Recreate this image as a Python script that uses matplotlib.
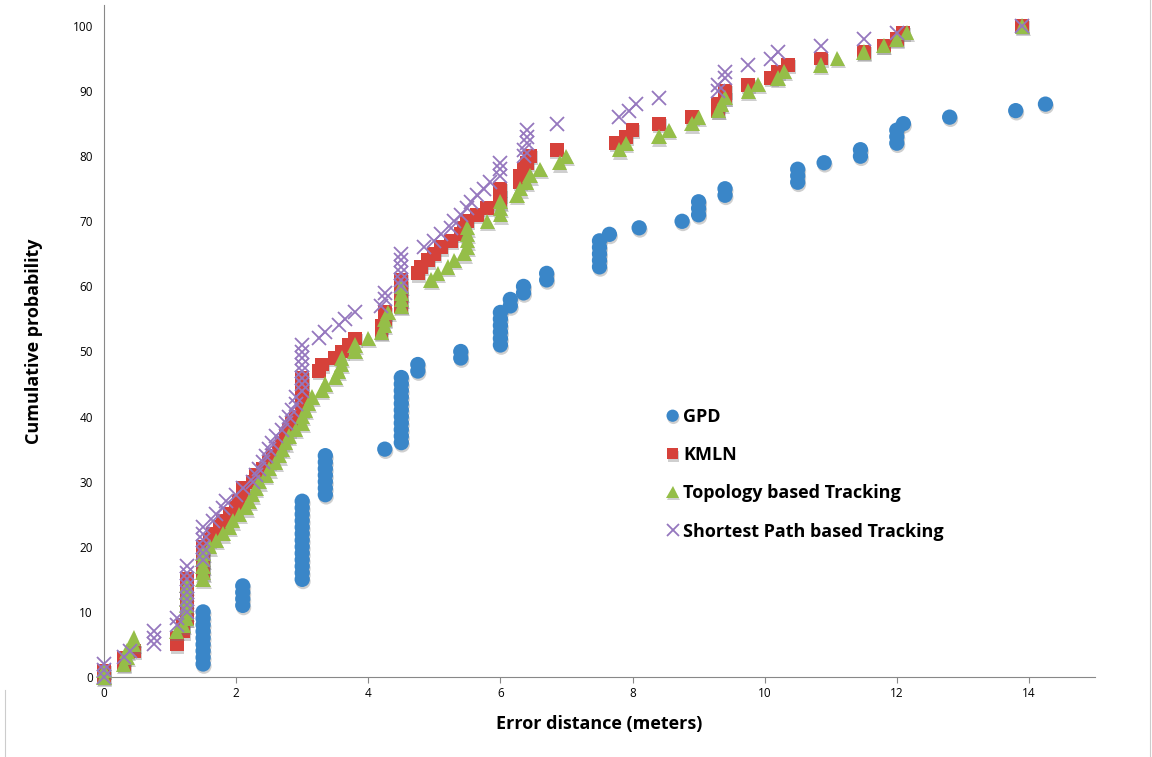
import matplotlib
matplotlib.use("Agg")
import matplotlib.pyplot as plt
import matplotlib.patheffects as pe
from matplotlib.lines import Line2D

# GPD
gpd_x = [1.5, 1.5, 1.5, 1.5, 1.5, 1.5, 1.5, 1.5, 1.5,
         2.1, 2.1, 2.1, 2.1,
         3.0, 3.0, 3.0, 3.0, 3.0, 3.0, 3.0, 3.0, 3.0, 3.0, 3.0, 3.0, 3.0,
         3.35, 3.35, 3.35, 3.35, 3.35, 3.35, 3.35,
         4.25,
         4.5, 4.5, 4.5, 4.5, 4.5, 4.5, 4.5, 4.5, 4.5, 4.5, 4.5,
         4.75, 4.75, 5.4, 5.4,
         6.0, 6.0, 6.0, 6.0, 6.0, 6.0, 6.15, 6.15, 6.35, 6.35, 6.7, 6.7,
         7.5, 7.5, 7.5, 7.5, 7.5, 7.65, 8.1, 8.75,
         9.0, 9.0, 9.0, 9.4, 9.4, 10.5, 10.5, 10.5, 10.9, 11.45, 11.45,
         12.0, 12.0, 12.0, 12.1, 12.8, 13.8, 14.25]
gpd_y = [2, 3, 4, 5, 6, 7, 8, 9, 10,
         11, 12, 13, 14,
         15, 16, 17, 18, 19, 20, 21, 22, 23, 24, 25, 26, 27,
         28, 29, 30, 31, 32, 33, 34,
         35,
         36, 37, 38, 39, 40, 41, 42, 43, 44, 45, 46,
         47, 48, 49, 50,
         51, 52, 53, 54, 55, 56, 57, 58, 59, 60, 61, 62,
         63, 64, 65, 66, 67, 68, 69, 70,
         71, 72, 73, 74, 75, 76, 77, 78, 79, 80, 81,
         82, 83, 84, 85, 86, 87, 88]

# KMLN
kmln_x = [0.0, 0.0, 0.3, 0.3, 0.45, 1.1, 1.1, 1.2, 1.2,
          1.25, 1.25, 1.25, 1.25, 1.25, 1.25, 1.25,
          1.5, 1.5, 1.5, 1.5, 1.5,
          1.6, 1.65, 1.75, 1.8, 1.9, 2.0, 2.05, 2.1, 2.1,
          2.25, 2.3, 2.4, 2.5, 2.55, 2.65, 2.7, 2.75, 2.8, 2.85, 2.9,
          3.0, 3.0, 3.0, 3.0, 3.0, 3.0,
          3.25, 3.3, 3.5, 3.6, 3.7, 3.8,
          4.2, 4.2, 4.25, 4.25,
          4.5, 4.5, 4.5, 4.5, 4.5,
          4.75, 4.8, 4.9, 5.0, 5.1, 5.25, 5.4, 5.45, 5.5, 5.65, 5.8,
          6.0, 6.0, 6.0, 6.3, 6.3, 6.35, 6.4, 6.45, 6.85,
          7.75, 7.9, 8.0, 8.4, 8.9, 9.3, 9.3, 9.4, 9.4, 9.75,
          10.1, 10.2, 10.35, 10.85, 11.5, 11.8, 12.0, 12.1, 13.9]
kmln_y = [0, 1, 2, 3, 4, 5, 6, 7, 8,
          9, 10, 11, 12, 13, 14, 15,
          16, 17, 18, 19, 20,
          21, 22, 23, 24, 25, 26, 27, 28, 29,
          30, 31, 32, 33, 34, 35, 36, 37, 38, 39, 40,
          41, 42, 43, 44, 45, 46,
          47, 48, 49, 50, 51, 52,
          53, 54, 55, 56,
          57, 58, 59, 60, 61,
          62, 63, 64, 65, 66, 67, 68, 69, 70, 71, 72,
          73, 74, 75, 76, 77, 78, 79, 80, 81,
          82, 83, 84, 85, 86, 87, 88, 89, 90, 91,
          92, 93, 94, 95, 96, 97, 98, 99, 100]

# Topology based Tracking
topo_x = [0.0, 0.0, 0.3, 0.35, 0.35, 0.45, 0.45, 1.1, 1.2,
          1.25, 1.25, 1.25, 1.25, 1.25, 1.25,
          1.5, 1.5, 1.5, 1.5, 1.5,
          1.6, 1.7, 1.8, 1.9, 1.95, 2.05, 2.15, 2.2, 2.25, 2.3,
          2.35, 2.45, 2.5, 2.6, 2.65, 2.7, 2.75, 2.8, 2.9, 3.0,
          3.0, 3.05, 3.1, 3.15, 3.3, 3.35, 3.5, 3.55, 3.6, 3.6,
          3.8, 3.8, 4.0, 4.2, 4.25, 4.25, 4.3, 4.5, 4.5, 4.5,
          4.5, 4.95, 5.05, 5.2, 5.3, 5.45, 5.5, 5.5, 5.5, 5.5,
          5.8, 6.0, 6.0, 6.0, 6.25, 6.3, 6.4, 6.45, 6.6, 6.9,
          7.0, 7.8, 7.9, 8.4, 8.55, 8.9, 9.0, 9.3, 9.35, 9.4,
          9.75, 9.9, 10.2, 10.3, 10.85, 11.1, 11.5, 11.8, 12.0, 12.15,
          13.9]
topo_y = [0, 1, 2, 3, 4, 5, 6, 7, 8,
          9, 10, 11, 12, 13, 14,
          15, 16, 17, 18, 19,
          20, 21, 22, 23, 24, 25, 26, 27, 28, 29,
          30, 31, 32, 33, 34, 35, 36, 37, 38, 39,
          40, 41, 42, 43, 44, 45, 46, 47, 48, 49,
          50, 51, 52, 53, 54, 55, 56, 57, 58, 59,
          60, 61, 62, 63, 64, 65, 66, 67, 68, 69,
          70, 71, 72, 73, 74, 75, 76, 77, 78, 79,
          80, 81, 82, 83, 84, 85, 86, 87, 88, 89,
          90, 91, 92, 93, 94, 95, 96, 97, 98, 99,
          100]

# Shortest Path based Tracking
sp_x = [0.0, 0.0, 0.0, 0.3, 0.4, 0.75, 0.75, 0.75, 1.1, 1.1,
        1.25, 1.25, 1.25, 1.25, 1.25, 1.25, 1.25, 1.25,
        1.5, 1.5, 1.5, 1.5, 1.5, 1.5,
        1.65, 1.7, 1.8, 1.85, 2.0, 2.1, 2.25, 2.3, 2.35, 2.4,
        2.45, 2.5, 2.55, 2.6, 2.7, 2.75, 2.8, 2.85, 2.9, 2.9,
        3.0, 3.0, 3.0, 3.0, 3.0, 3.0, 3.0, 3.0,
        3.25, 3.35, 3.55, 3.65, 3.8, 4.2, 4.25, 4.25,
        4.5, 4.5, 4.5, 4.5, 4.5, 4.5,
        4.85, 5.0, 5.1, 5.25, 5.3, 5.4, 5.5, 5.55, 5.65, 5.75,
        5.85, 6.0, 6.0, 6.0, 6.35, 6.35, 6.4, 6.4, 6.4, 6.85,
        7.8, 7.95, 8.05, 8.4, 9.3, 9.3, 9.4, 9.4, 9.75, 10.1,
        10.2, 10.85, 11.5, 12.0, 13.9]
sp_y = [0, 1, 2, 3, 4, 5, 6, 7, 8, 9,
        10, 11, 12, 13, 14, 15, 16, 17,
        18, 19, 20, 21, 22, 23,
        24, 25, 26, 27, 28, 29, 30, 31, 32, 33,
        34, 35, 36, 37, 38, 39, 40, 41, 42, 43,
        44, 45, 46, 47, 48, 49, 50, 51,
        52, 53, 54, 55, 56, 57, 58, 59,
        60, 61, 62, 63, 64, 65,
        66, 67, 68, 69, 70, 71, 72, 73, 74, 75,
        76, 77, 78, 79, 80, 81, 82, 83, 84, 85,
        86, 87, 88, 89, 90, 91, 92, 93, 94, 95,
        96, 97, 98, 99, 100]

x_ticks = [0, 2, 4, 6, 8, 10, 12, 14]
y_ticks = [0, 10, 20, 30, 40, 50, 60, 70, 80, 90, 100]

plt.rcParams['font.family'] = ['Open Sans', 'DejaVu Sans']

fig = plt.figure(figsize=(11.52, 7.57), dpi=100)
ax = fig.add_axes([104 / 1152, 1 - 677 / 757, (1095 - 104) / 1152, (677 - 5) / 757])

blue = '#3A86C8'
red = '#D6413A'
green = '#95BE48'
purple = '#9577BE'

shadow = [pe.SimplePatchShadow(offset=(0.6, -1.6), shadow_rgbFace='#777777', alpha=0.35), pe.Normal()]

ax.plot(gpd_x, gpd_y, 'o', color=blue, markersize=11, markeredgewidth=0,
        label='GPD', clip_on=False, zorder=3, path_effects=shadow)
ax.plot(kmln_x, kmln_y, 's', color=red, markersize=10, markeredgewidth=0,
        label='KMLN', clip_on=False, zorder=4, path_effects=shadow)
ax.plot(topo_x, topo_y, '^', color=green, markersize=11, markeredgewidth=0,
        label='Topology based Tracking', clip_on=False, zorder=5, path_effects=shadow)
ax.plot(sp_x, sp_y, 'x', color=purple, markersize=10, markeredgewidth=1.3,
        label='Shortest Path based Tracking', clip_on=False, zorder=6)

ax.set_xlim(0, 15)
ax.set_ylim(0, 100 * (677 - 5) / (677 - 26))
ax.set_xticks(x_ticks)
ax.set_yticks(y_ticks)
ax.tick_params(axis='both', labelsize=8.5, length=4, color='#888888', width=0.8, pad=3)
ax.tick_params(axis='y', length=0, pad=8)

for side in ['top', 'right']:
    ax.spines[side].set_visible(False)
for side in ['left', 'bottom']:
    ax.spines[side].set_color('#888888')
    ax.spines[side].set_linewidth(0.8)

ax.set_xlabel('Error distance (meters)', fontsize=13, fontweight='bold', labelpad=11)
ax.set_ylabel('Cumulative probability', fontsize=13, fontweight='bold', labelpad=21)

leg = ax.legend(loc='upper left', bbox_to_anchor=(655 / 1152, 1 - 399 / 757),
                bbox_transform=fig.transFigure, frameon=False,
                prop={'weight': 'bold', 'size': 13}, handletextpad=0.1,
                handlelength=0.95, labelspacing=1.12, borderpad=0, markerscale=0.8)

# light frame lines at the figure edges
fig.add_artist(Line2D([1150 / 1152, 1150 / 1152], [0, 1], color='#cccccc', lw=0.8))
fig.add_artist(Line2D([5 / 1152, 5 / 1152], [0, 1 - 690 / 757], color='#cccccc', lw=0.8))

fig.savefig('out.png', dpi=100)
